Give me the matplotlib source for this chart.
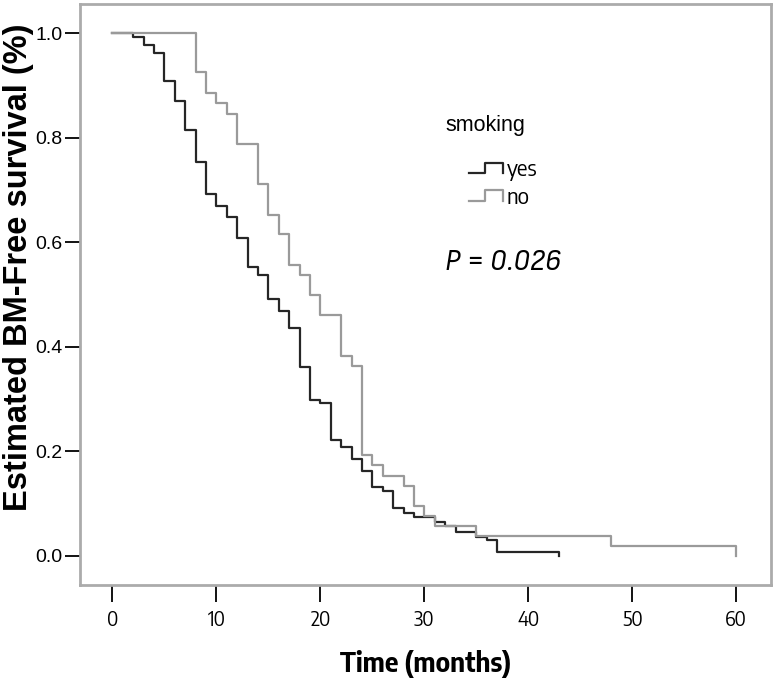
import os
import matplotlib
matplotlib.use("Agg")
import matplotlib.pyplot as plt
from matplotlib import font_manager
from matplotlib.font_manager import FontProperties
from matplotlib.textpath import TextPath

# Kaplan-Meier estimates (time in months, survival after step)
yes_time = [0, 2, 3, 4, 5, 6, 7, 8, 9, 10, 11, 12, 13, 14, 15, 16, 17, 18, 19, 20,
            21, 22, 23, 24, 25, 26, 27, 28, 29, 31, 32, 33, 35, 36, 37, 43]
yes_surv = [1.0, 0.992, 0.978, 0.962, 0.909, 0.870, 0.815, 0.754, 0.693, 0.670,
            0.648, 0.608, 0.553, 0.537, 0.491, 0.469, 0.436, 0.362, 0.299, 0.292,
            0.221, 0.208, 0.185, 0.163, 0.131, 0.123, 0.091, 0.082, 0.075, 0.064,
            0.057, 0.046, 0.036, 0.030, 0.008, 0.0]

no_time = [0, 8, 9, 10, 11, 12, 14, 15, 16, 17, 18, 19, 20, 22, 23, 24, 25, 26,
           28, 29, 30, 31, 35, 48, 60]
no_surv = [1.0, 0.925, 0.886, 0.866, 0.845, 0.789, 0.711, 0.653, 0.615, 0.557,
           0.538, 0.500, 0.461, 0.382, 0.364, 0.193, 0.174, 0.153, 0.133, 0.095,
           0.076, 0.057, 0.038, 0.019, 0.0]

x_ticks = [0, 10, 20, 30, 40, 50, 60]
y_ticks = [0.0, 0.2, 0.4, 0.6, 0.8, 1.0]

group_names = ["yes", "no"]
group_colors = ["#262626", "#9a9a9a"]

DPI = 100
FAMILY_RANK = ["Liberation", "Noto Sans", "Roboto", "Open Sans", "DejaVu"]


def _num(value, table):
    return table.get(value, 400) if isinstance(value, str) else value


def narrow_face(bold=False, italic=False):
    """Moderately condensed sans face (SPSS uses Arial Narrow), or None."""
    best = None
    want_w = 700 if bold else 400
    for f in font_manager.fontManager.ttflist:
        stretch = _num(f.stretch, font_manager.stretch_dict)
        if stretch >= 500 or "Sans" not in f.name or "Mono" in f.name:
            continue
        weight = _num(f.weight, font_manager.weight_dict)
        if abs(weight - want_w) > 100:
            continue
        if (f.style in ("italic", "oblique")) != italic:
            continue
        fn = os.path.basename(f.fname).lower()
        if "semicondensed" in fn or "semicond" in fn:
            width_rank = 0
        elif "extra" in fn or "ultra" in fn:
            width_rank = 2
        else:
            width_rank = 1
        fam_rank = next((i for i, k in enumerate(FAMILY_RANK) if k in f.name), 9)
        score = (width_rank, fam_rank, abs(weight - want_w))
        if best is None or score < best[0]:
            best = (score, f.fname)
    return best[1] if best else None


def face(bold=False, italic=False):
    path = narrow_face(bold, italic)
    if path:
        return FontProperties(fname=path)
    return FontProperties(family="Liberation Sans", weight="bold" if bold else "normal",
                          style="italic" if italic else "normal")


def fitted(fp, text, width_px):
    """Copy of fp sized so that text is width_px wide in the saved image."""
    probe = fp.copy()
    probe.set_size(100)
    w_pt = TextPath((0, 0), text, prop=probe).get_extents().width
    out = fp.copy()
    out.set_size(100 * width_px / (w_pt * DPI / 72))
    return out


fig = plt.figure(figsize=(7.76, 6.81), dpi=DPI)
ax = fig.add_axes([0.1037, 0.1417, 0.8905, 0.8524])

ax.step(yes_time, yes_surv, where="post", color=group_colors[0], lw=1.6)
ax.step(no_time, no_surv, where="post", color=group_colors[1], lw=1.6)

ax.set_xlim(-3.08, 63.4)
ax.set_ylim(-0.055, 1.056)
ax.set_xticks(x_ticks)
ax.set_yticks(y_ticks)
ax.set_xticklabels([str(v) for v in x_ticks], fontproperties=fitted(face(), "20", 19))
ax.set_yticklabels([f"{v:.1f}" for v in y_ticks], family="Liberation Sans", fontsize=14)
ax.tick_params(axis="x", length=12, width=1.3, pad=6, colors="black")
ax.tick_params(axis="y", length=11, width=1.3, pad=2, colors="black")

for side in ax.spines.values():
    side.set_color("#ababab")
    side.set_linewidth(2)

xlab = "Time (months)"
ax.set_xlabel(xlab, fontproperties=fitted(face(bold=True), xlab, 170), va="center")
ax.xaxis.set_label_coords(0.4996, -0.137)
ax.set_ylabel("Estimated BM-Free survival (%)", family="Liberation Sans",
              fontweight="bold", fontsize=23.5, va="center")
ax.yaxis.set_label_coords(-0.089, 0.547)

# legend drawn by hand: step-shaped icons like the SPSS output
ax.text(0.5854, 0.7899, "smoking", transform=ax.transAxes, family="Liberation Sans",
        fontsize=15.5, ha="center", va="center")
legend_fp = fitted(face(), "yes", 30)
for i, (name, col) in enumerate(zip(group_names, group_colors)):
    lo = 0.7084 - i * 0.0478
    hi = lo + 0.0182
    ax.plot([0.5627, 0.5848, 0.5848, 0.6114, 0.6114], [lo, lo, hi, hi, lo],
            transform=ax.transAxes, color=col, lw=1.6)
    ax.text(0.6172, lo + 0.006, name, transform=ax.transAxes,
            fontproperties=legend_fp, ha="left", va="center")

ptext = "P = 0.026"
ax.text(0.5275, 0.5547, ptext, transform=ax.transAxes,
        fontproperties=fitted(face(italic=True), ptext, 114), ha="left", va="center")

fig.savefig("out.png", dpi=DPI)
